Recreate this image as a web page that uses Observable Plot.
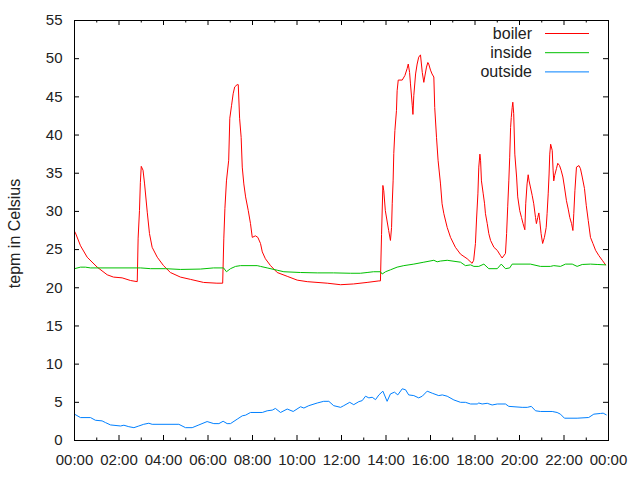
<!DOCTYPE html>
<html>
<head>
<meta charset="utf-8">
<script src="https://cdn.jsdelivr.net/npm/d3@7"></script>
<script src="https://cdn.jsdelivr.net/npm/@observablehq/plot@0.6"></script>
<style>
  html, body { margin: 0; padding: 0; background: #fff; }
  #wrap { position: relative; width: 640px; height: 480px; font-family: "Liberation Sans", Arial, sans-serif; }
  #legend { position: absolute; left: 0; top: 0; width: 640px; height: 100px; pointer-events: none; }
</style>
</head>
<body>
<div id="wrap"></div>
<script>
// ---- data (hours since midnight, temperature in °C) ----
const seriesNames = ["boiler", "inside", "outside"];
const seriesColors = ["#ff0000", "#00c000", "#0080ff"];

const boilerHours = [0.00,0.04,0.27,0.57,1.02,1.47,1.75,2.14,2.52,2.82,2.86,2.92,2.96,3.00,3.08,3.15,3.27,3.37,3.49,3.72,4.00,4.31,4.76,5.21,5.80,6.40,6.66,
  6.71,6.76,6.83,6.93,6.98,7.06,7.13,7.20,7.31,7.36,7.42,7.49,7.54,7.61,7.69,7.81,7.91,7.99,8.13,8.24,8.36,8.44,8.58,8.81,9.11,9.56,10.01,10.46,11.36,11.96,12.54,13.15,13.68,13.75,
  13.80,13.86,13.90,13.97,14.12,14.20,14.25,14.28,14.32,14.35,14.40,14.47,14.50,14.55,14.73,14.85,14.95,15.00,15.06,15.10,15.18,15.21,15.25,15.33,15.40,15.47,15.55,15.63,15.70,15.74,15.82,15.88,15.92,16.00,16.07,16.15,16.19,16.27,16.34,16.45,16.52,16.60,16.75,16.90,17.12,17.35,17.65,17.87,17.94,
  18.02,18.07,18.13,18.17,18.22,18.25,18.29,18.37,18.43,18.47,18.55,18.62,18.70,18.85,19.00,19.15,19.22,19.37,19.42,19.47,19.52,19.56,19.60,19.63,19.67,19.70,19.74,19.79,19.87,19.92,20.01,20.09,20.16,20.24,20.28,20.34,20.39,20.43,20.49,20.57,20.64,20.72,20.76,20.82,20.87,20.91,20.97,21.04,21.12,21.20,21.24,21.29,21.33,21.36,21.40,21.47,21.51,21.54,21.58,21.66,21.72,21.80,21.87,21.95,22.02,22.11,22.19,22.26,22.34,22.40,22.44,22.49,22.56,22.67,22.74,22.82,22.92,23.00,23.09,23.19,23.30,23.42,23.57,23.72,23.87];
const boilerTemps = [27.4,27.2,25.5,24.0,22.7,21.7,21.4,21.3,20.95,20.8,26.5,30.1,33.8,35.9,35.4,33.6,29.9,27.1,25.3,24.0,22.9,22.0,21.4,21.1,20.7,20.6,20.6,
  26.4,30.4,34.0,36.7,42.2,43.9,45.4,46.3,46.6,46.6,42.2,39.7,35.8,33.6,31.9,30.1,28.4,26.6,26.8,26.6,25.8,24.7,23.8,22.9,22.0,21.5,21.0,20.8,20.6,20.4,20.5,20.7,20.9,20.9,
  27.0,33.4,32.7,30.1,27.5,26.2,27.9,31.0,34.0,37.6,40.6,43.2,45.8,47.2,47.2,47.8,48.7,49.3,48.2,46.7,43.9,42.7,45.2,48.0,49.3,50.2,50.5,48.2,46.9,47.6,48.9,49.5,49.3,48.5,48.0,47.6,43.6,39.7,36.7,33.6,31.0,29.7,27.9,26.6,25.3,24.4,23.8,23.2,23.6,
  25.8,29.0,32.3,35.8,37.5,36.7,34.0,32.3,31.0,29.7,28.4,27.1,26.2,25.3,24.9,24.2,23.9,24.5,27.1,30.6,34.0,37.1,41.0,42.3,43.6,44.3,42.8,37.5,34.5,31.9,30.1,29.2,28.4,27.6,31.0,33.6,34.8,34.0,33.2,32.1,31.0,29.2,28.4,29.2,29.8,28.8,27.1,25.8,26.6,27.9,29.7,32.3,34.9,37.5,38.8,38.0,35.4,34.0,34.7,35.6,36.3,36.0,35.4,34.5,33.2,31.4,30.3,29.2,28.4,27.5,29.7,32.7,35.8,36.0,35.6,34.5,33.0,30.8,28.8,26.6,25.8,24.9,24.2,23.6,23.0];

const insideHours = [0.00,0.27,0.49,0.72,2.97,3.42,4.09,4.76,5.66,6.25,6.70,6.83,7.01,7.24,7.46,8.21,8.36,8.66,9.11,9.41,10.16,10.91,11.64,12.40,12.85,13.15,13.44,13.75,13.83,13.98,14.20,14.50,14.80,15.25,15.70,16.15,16.30,16.45,16.75,17.35,17.57,17.80,17.95,18.17,18.40,18.62,19.00,19.18,19.37,19.56,19.67,20.49,20.94,21.39,21.54,21.84,22.07,22.37,22.59,22.82,23.19,23.49,23.87];
const insideTemps = [22.5,22.7,22.7,22.6,22.6,22.5,22.5,22.4,22.45,22.6,22.6,22.1,22.5,22.8,22.9,22.9,22.8,22.6,22.3,22.1,22.0,21.95,21.95,21.9,21.9,22.0,22.1,22.1,21.8,22.1,22.35,22.7,22.9,23.1,23.35,23.6,23.4,23.5,23.6,23.35,22.9,23.0,22.8,22.8,23.1,22.5,22.5,23.1,22.5,22.6,23.1,23.1,22.8,22.8,22.9,22.8,23.1,23.1,22.8,23.05,23.1,23.05,23.0];

const outsideHours = [0.00,0.27,0.72,0.94,1.24,1.39,1.62,2.07,2.22,2.44,2.67,2.89,3.11,3.34,3.49,4.69,4.99,5.29,5.59,5.96,6.26,6.49,6.68,6.86,7.01,7.31,7.54,7.69,7.91,8.44,8.66,8.89,9.03,9.26,9.56,9.83,10.16,10.31,10.53,10.91,11.20,11.43,11.65,11.96,12.10,12.37,12.55,12.78,12.93,13.08,13.23,13.38,13.53,13.68,13.86,14.05,14.20,14.38,14.53,14.73,14.88,15.02,15.25,15.47,15.63,15.85,16.08,16.37,16.53,16.75,17.05,17.35,17.57,17.80,18.10,18.17,18.32,18.55,18.77,19.00,19.37,19.52,20.12,20.35,20.53,20.72,20.94,21.47,21.69,21.84,22.02,22.59,23.11,23.34,23.64,23.76,23.90];
const outsideTemps = [3.45,3.0,3.0,2.65,2.57,2.35,2.04,1.9,2.0,1.81,1.68,1.9,2.12,2.26,2.12,2.12,1.68,1.68,2.04,2.48,2.21,2.21,2.52,2.21,2.21,2.79,3.23,3.32,3.67,3.67,3.89,3.98,4.2,3.67,4.12,3.8,4.42,4.25,4.56,4.91,5.13,5.13,4.56,4.34,4.56,5.0,4.69,5.09,5.22,5.8,5.58,5.66,5.35,5.97,6.46,5.13,6.1,6.33,5.97,6.77,6.64,5.97,5.88,5.58,5.8,6.46,6.19,5.88,5.97,5.8,5.31,5.0,5.0,4.78,4.78,4.91,4.78,4.87,4.65,4.78,4.78,4.47,4.34,4.34,4.47,3.89,3.8,3.8,3.67,3.45,2.92,2.92,3.01,3.45,3.54,3.58,3.36];

const xTickHours = [0,2,4,6,8,10,12,14,16,18,20,22,24];
const xTickLabels = ["00:00","02:00","04:00","06:00","08:00","10:00","12:00","14:00","16:00","18:00","20:00","22:00","00:00"];
const xMinorHours = [1,3,5,7,9,11,13,15,17,19,21,23];
const yTicks = [0,5,10,15,20,25,30,35,40,45,50,55];
const yLabel = "tepm in Celsius";

// ---- build tables ----
const zip = (hs, vs) => hs.map((h, i) => ({h, v: vs[i]}));
const boiler = zip(boilerHours, boilerTemps);
const inside = zip(insideHours, insideTemps);
const outside = zip(outsideHours, outsideTemps);

const W = 640, H = 480, mL = 74, mR = 32, mT = 20, mB = 40;
const pw = W - mL - mR, ph = H - mT - mB;
const FS = 16;      // legend and axis title
const TFS = 15;     // tick labels
const FONT = '"Liberation Sans", Arial, sans-serif';

const chart = Plot.plot({
  width: W, height: H,
  marginLeft: mL, marginRight: mR, marginTop: mT, marginBottom: mB,
  style: {fontFamily: FONT, fontSize: TFS + "px", background: "#fff", color: "#222"},
  x: {domain: [0, 24], label: null},
  y: {domain: [0, 55], label: null},
  marks: [
    Plot.line(boiler, {x: "h", y: "v", stroke: seriesColors[0], strokeWidth: 1}),
    Plot.line(inside, {x: "h", y: "v", stroke: seriesColors[1], strokeWidth: 1}),
    Plot.line(outside, {x: "h", y: "v", stroke: seriesColors[2], strokeWidth: 1}),
    // inward ticks (gnuplot style, mirrored on all sides)
    Plot.tickY(yTicks, {y: d => d, stroke: "#000", insetRight: pw - 5}),
    Plot.tickY(yTicks, {y: d => d, stroke: "#000", insetLeft: pw - 5}),
    Plot.tickX(xTickHours, {x: d => d, stroke: "#000", insetTop: ph - 5}),
    Plot.tickX(xTickHours, {x: d => d, stroke: "#000", insetBottom: ph - 5}),
    Plot.tickX(xMinorHours, {x: d => d, stroke: "#000", insetTop: ph - 2.5}),
    Plot.tickX(xMinorHours, {x: d => d, stroke: "#000", insetBottom: ph - 2.5}),
    Plot.frame({stroke: "#000", strokeWidth: 1}),
    Plot.axisY(yTicks, {tickSize: 0, tickPadding: 12, fontSize: TFS, fill: "#222"}),
    Plot.axisX(xTickHours, {tickSize: 0, tickPadding: 14, fontSize: TFS, fill: "#222", tickFormat: (d, i) => xTickLabels[i]}),
    Plot.text([yLabel], {frameAnchor: "left", textAnchor: "middle", text: d => d, rotate: -90, dx: -60, dy: 3, fontSize: FS, fill: "#222"})
  ]
});

const wrap = document.getElementById("wrap");
wrap.appendChild(chart);

// ---- legend (top-right, inside the plot) ----
const ns = "http://www.w3.org/2000/svg";
const leg = document.createElementNS(ns, "svg");
leg.setAttribute("id", "legend");
leg.setAttribute("width", W);
leg.setAttribute("height", 100);
seriesNames.forEach((name, i) => {
  const y = 33 + i * 19.2;
  const t = document.createElementNS(ns, "text");
  t.setAttribute("x", 532);
  t.setAttribute("y", y);
  t.setAttribute("text-anchor", "end");
  t.setAttribute("dominant-baseline", "central");
  t.setAttribute("font-size", FS);
  t.setAttribute("fill", "#222");
  t.setAttribute("font-family", FONT);
  t.textContent = name;
  leg.appendChild(t);
  const l = document.createElementNS(ns, "line");
  l.setAttribute("x1", 545); l.setAttribute("x2", 589);
  l.setAttribute("y1", y + 0.5); l.setAttribute("y2", y + 0.5);
  l.setAttribute("stroke", seriesColors[i]);
  l.setAttribute("stroke-width", 1);
  leg.appendChild(l);
});
wrap.appendChild(leg);
</script>
</body>
</html>
